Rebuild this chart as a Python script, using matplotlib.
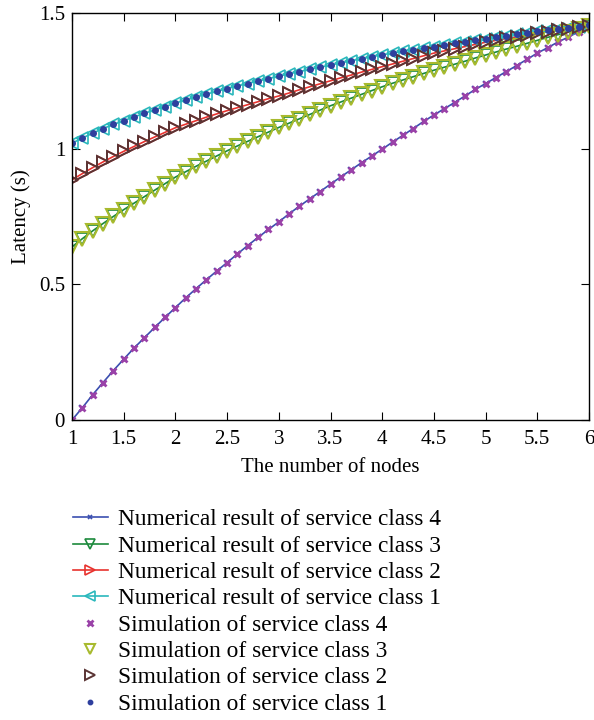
import numpy as np
import matplotlib
matplotlib.use("Agg")
import matplotlib.pyplot as plt

plt.rcParams['font.family'] = ['Liberation Serif', 'DejaVu Serif']
plt.rcParams['mathtext.fontset'] = 'stix'

nodes = np.round(np.arange(1.0, 6.01, 0.1), 1)

class4 = [0.000, 0.045, 0.093, 0.138, 0.182, 0.224, 0.265, 0.303, 0.341, 0.378,
          0.414, 0.450, 0.484, 0.517, 0.549, 0.580, 0.612, 0.643, 0.673, 0.702,
          0.730, 0.760, 0.788, 0.815, 0.842, 0.869, 0.896, 0.922, 0.948, 0.973,
          0.998, 1.024, 1.049, 1.074, 1.100, 1.124, 1.147, 1.170, 1.194, 1.218,
          1.240, 1.262, 1.284, 1.306, 1.329, 1.352, 1.372, 1.393, 1.411, 1.431,
          1.450]
class3 = [0.638, 0.668, 0.697, 0.724, 0.750, 0.775, 0.799, 0.823, 0.847, 0.871,
          0.895, 0.915, 0.935, 0.954, 0.973, 0.992, 1.010, 1.027, 1.044, 1.061,
          1.078, 1.094, 1.110, 1.126, 1.142, 1.158, 1.172, 1.186, 1.200, 1.214,
          1.228, 1.241, 1.253, 1.265, 1.277, 1.289, 1.300, 1.311, 1.322, 1.334,
          1.345, 1.356, 1.367, 1.377, 1.388, 1.399, 1.410, 1.420, 1.431, 1.441,
          1.452]
class2 = [0.885, 0.908, 0.930, 0.951, 0.971, 0.990, 1.008, 1.026, 1.043, 1.060,
          1.077, 1.090, 1.103, 1.116, 1.128, 1.140, 1.151, 1.162, 1.173, 1.184,
          1.194, 1.205, 1.217, 1.228, 1.239, 1.250, 1.261, 1.271, 1.282, 1.292,
          1.302, 1.312, 1.322, 1.332, 1.342, 1.352, 1.360, 1.368, 1.376, 1.384,
          1.392, 1.399, 1.406, 1.412, 1.419, 1.425, 1.431, 1.437, 1.442, 1.448,
          1.453]
class1 = [1.020, 1.039, 1.057, 1.074, 1.089, 1.103, 1.117, 1.130, 1.143, 1.155,
          1.168, 1.179, 1.190, 1.201, 1.211, 1.221, 1.231, 1.240, 1.249, 1.258,
          1.267, 1.276, 1.284, 1.292, 1.300, 1.308, 1.316, 1.324, 1.331, 1.339,
          1.346, 1.352, 1.358, 1.364, 1.370, 1.376, 1.382, 1.388, 1.394, 1.399,
          1.405, 1.410, 1.416, 1.421, 1.427, 1.432, 1.437, 1.441, 1.446, 1.450,
          1.454]

# simulation points sit on top of the numerical curves
sim4 = class4
sim3 = class3
sim2 = class2
sim1 = class1

fig = plt.figure(figsize=(5.94, 7.2), dpi=100)
ax = fig.add_axes([0.1212, 0.4167, 0.8704, 0.5653])

ax.plot(nodes, class4, color='#3b4fb0', lw=1.2, marker='x', ms=4, mew=1.2,
        label='Numerical result of service class 4')
ax.plot(nodes, class3, color='#1c8a3c', lw=1.2, marker='v', ms=8.5, mew=1.2,
        mfc='none', label='Numerical result of service class 3')
ax.plot(nodes, class2, color='#e8322e', lw=1.2, marker='>', ms=8.5, mew=1.2,
        mfc='none', label='Numerical result of service class 2')
ax.plot(nodes, class1, color='#2ab8bc', lw=1.2, marker='<', ms=8.5, mew=1.2,
        mfc='none', label='Numerical result of service class 1')
ax.plot(nodes, sim4, ls='none', color='#9a42a8', marker='x', ms=5, mew=2,
        label='Simulation of service class 4')
ax.plot(nodes, sim3, ls='none', color='#a8ba2e', marker='v', ms=9.5, mew=1.5,
        mfc='none', label='Simulation of service class 3')
ax.plot(nodes, sim2, ls='none', color='#5a3434', marker='>', ms=8.5, mew=1.4,
        mfc='none', label='Simulation of service class 2')
ax.plot(nodes, sim1, ls='none', color='#2e3f9e', marker='o', ms=4,
        label='Simulation of service class 1')

ax.set_xlim(1, 6)
ax.set_ylim(0, 1.5)
ax.set_xticks([1, 1.5, 2, 2.5, 3, 3.5, 4, 4.5, 5, 5.5, 6])
ax.set_xticklabels(['1', '1.5', '2', '2.5', '3', '3.5', '4', '4.5', '5', '5.5', '6'])
ax.set_yticks([0, 0.5, 1, 1.5])
ax.set_yticklabels(['0', '0.5', '1', '1.5'])
ax.tick_params(direction='in', top=True, right=True, labelsize=15, length=6)
ax.tick_params(axis='x', pad=7)
ax.tick_params(axis='y', pad=5)
for s in ax.spines.values():
    s.set_linewidth(1.0)

ax.set_xlabel('The number of nodes', fontsize=15, labelpad=7)
ax.set_ylabel('Latency (s)', fontsize=15, labelpad=6)

fig.legend(loc='upper left', bbox_to_anchor=(0.107, 0.306), frameon=False,
           fontsize=16.8, handlelength=1.5, handletextpad=0.45, labelspacing=0.215,
           borderaxespad=0, markerscale=0.8)

fig.savefig('out.png', dpi=100)
